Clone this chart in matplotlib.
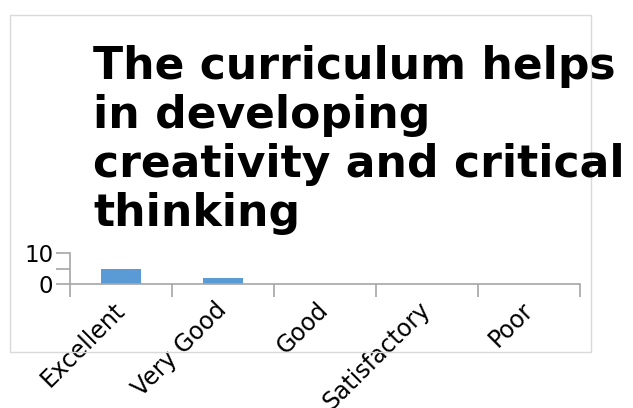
import matplotlib
matplotlib.use("Agg")
import matplotlib.pyplot as plt
from matplotlib.patches import Rectangle
from matplotlib.ticker import FixedLocator

categories = ["Excellent", "Very Good", "Good", "Satisfactory", "Poor"]
values = [5, 2, 0, 0, 0]
title = "The curriculum helps\nin developing\ncreativity and critical\nthinking"
y_ticks = [0, 10]

W, H = 633, 408
fig = plt.figure(figsize=(W / 100, H / 100), dpi=100)

# outer chart border
fig.patches.append(Rectangle((10 / W, 1 - 352 / H), 581 / W, 337 / H,
                             transform=fig.transFigure, fill=False,
                             edgecolor="#d9d9d9", linewidth=1.0))

ax = fig.add_axes([70 / W, 1 - 284 / H, 510 / W, 31 / H])
x = list(range(len(categories)))
ax.bar(x, values, width=0.4, color="#5b9bd5", zorder=2)
ax.set_xlim(-0.5, len(categories) - 0.5)
ax.set_ylim(0, 10)

for s in ["top", "right"]:
    ax.spines[s].set_visible(False)
for s in ["left", "bottom"]:
    ax.spines[s].set_color("#a6a6a6")
    ax.spines[s].set_linewidth(1.2)

ax.set_yticks(y_ticks)
ax.set_yticklabels([str(v) for v in y_ticks], fontsize=16.5)
ax.yaxis.set_minor_locator(FixedLocator([5]))
ax.tick_params(axis="y", which="both", length=10, width=1.2, color="#a6a6a6", pad=2)

ax.set_xticks(x)
ax.set_xticklabels(categories, fontsize=17, rotation=45, ha="right",
                   va="center", rotation_mode="anchor")
ax.tick_params(axis="x", which="major", length=0, pad=16)
ax.xaxis.set_minor_locator(FixedLocator([i - 0.5 for i in range(len(categories) + 1)]))
ax.tick_params(axis="x", which="minor", length=9, width=1.2, color="#a6a6a6")

fig.text(93 / W, 1 - 45 / H, title, fontsize=31.7, fontweight="bold",
         ha="left", va="top", linespacing=1.18)

fig.savefig("out.png", dpi=100)
